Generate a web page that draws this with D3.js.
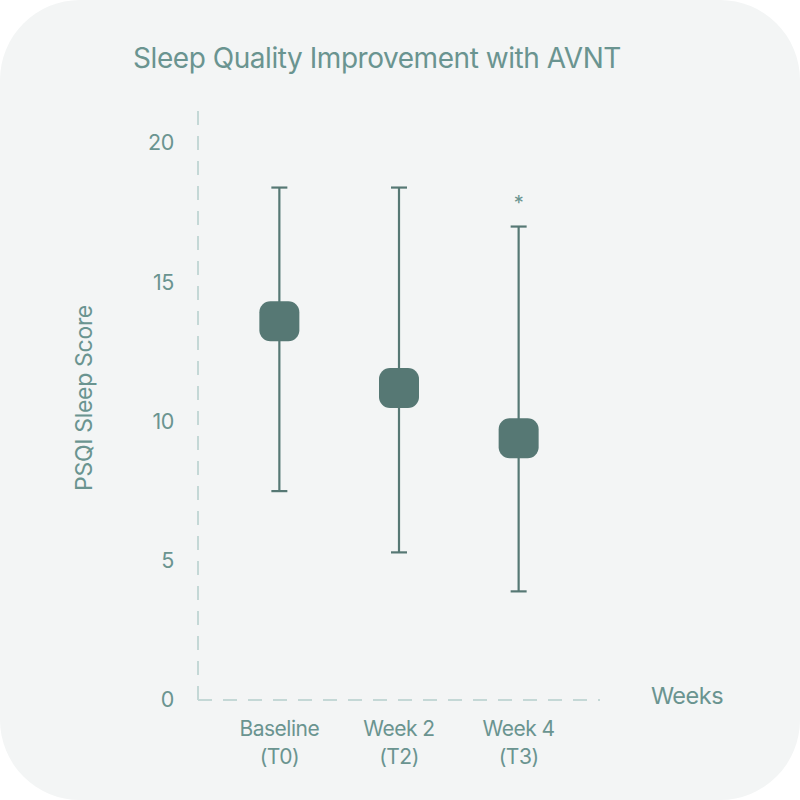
<!DOCTYPE html>
<html>
<head>
<meta charset="utf-8">
<script src="https://cdn.jsdelivr.net/npm/d3@7"></script>
<style>
  html, body { margin: 0; padding: 0; background: #ffffff; }
  svg { display: block; font-family: Inter, "Noto Sans", sans-serif; }
</style>
</head>
<body>
<svg width="800" height="800"></svg>
<script>
// data
const categories = ["Baseline|(T0)", "Week 2|(T2)", "Week 4|(T3)"];
const means = [13.6, 11.2, 9.4];
const upper = [18.4, 18.4, 17.0];
const lower = [7.5, 5.3, 3.9];
const significant = [false, false, true];
const yTicks = [0, 5, 10, 15, 20];

const svg = d3.select("svg"),
    width = +svg.attr("width"),
    height = +svg.attr("height");

const textColor = "#6a9490",
    markColor = "#567874",
    axisColor = "#c4d8d6";

// card background
svg.append("rect")
    .attr("x", 0).attr("y", 0)
    .attr("width", width).attr("height", height)
    .attr("rx", 80).attr("ry", 80)
    .attr("fill", "#f3f5f5");

const left = 198, right = 600, bottom = 700;

const y = d3.scaleLinear().domain([0, 20]).range([bottom, 143]);
const x = d3.scalePoint().domain(categories).range([left, right]).padding(0.68);

// title
svg.append("text")
    .attr("x", 377).attr("y", 68)
    .attr("text-anchor", "middle")
    .attr("fill", textColor)
    .attr("font-size", 28)
    .attr("letter-spacing", -0.45)
    .text("Sleep Quality Improvement with AVNT");

// dashed axes
svg.append("line")
    .attr("x1", left).attr("x2", left)
    .attr("y1", bottom).attr("y2", 100)
    .attr("stroke", axisColor).attr("stroke-width", 2)
    .attr("stroke-dasharray", "14,11");

svg.append("line")
    .attr("x1", left).attr("x2", right)
    .attr("y1", bottom).attr("y2", bottom)
    .attr("stroke", axisColor).attr("stroke-width", 2)
    .attr("stroke-dasharray", "14,11");

// y ticks
const yAxis = d3.axisLeft(y).tickValues(yTicks).tickSize(0).tickPadding(24);
const yg = svg.append("g").attr("transform", `translate(${left},0)`).call(yAxis);
yg.select(".domain").remove();
yg.selectAll("text")
    .attr("fill", textColor)
    .attr("font-size", 21.5)
    .attr("letter-spacing", -0.4)
    .attr("font-family", "Inter, sans-serif");

// x ticks, two lines each
const xg = svg.append("g");
categories.forEach(c => {
    const parts = c.split("|");
    const t = xg.append("text")
        .attr("x", x(c))
        .attr("y", 736)
        .attr("text-anchor", "middle")
        .attr("fill", textColor)
        .attr("font-size", 21)
        .attr("letter-spacing", -0.5);
    t.append("tspan").attr("x", x(c)).text(parts[0]);
    t.append("tspan").attr("x", x(c)).attr("dy", 27.5).text(parts[1]);
});

// axis titles
svg.append("text")
    .attr("transform", "translate(92,398) rotate(-90)")
    .attr("text-anchor", "middle")
    .attr("fill", textColor)
    .attr("font-size", 23)
    .attr("letter-spacing", -0.3)
    .text("PSQI Sleep Score");

svg.append("text")
    .attr("x", 687).attr("y", 704)
    .attr("text-anchor", "middle")
    .attr("fill", textColor)
    .attr("font-size", 23.5)
    .attr("letter-spacing", -0.5)
    .text("Weeks");

// whiskers
const marks = svg.append("g");
categories.forEach((c, i) => {
    const cx = x(c);
    marks.append("line")
        .attr("x1", cx).attr("x2", cx)
        .attr("y1", y(upper[i])).attr("y2", y(lower[i]))
        .attr("stroke", markColor).attr("stroke-width", 2.2);
    [upper[i], lower[i]].forEach(v => {
        marks.append("line")
            .attr("x1", cx - 8).attr("x2", cx + 8)
            .attr("y1", y(v)).attr("y2", y(v))
            .attr("stroke", markColor).attr("stroke-width", 2.2);
    });
    marks.append("rect")
        .attr("x", cx - 20).attr("y", y(means[i]) - 20)
        .attr("width", 40).attr("height", 40)
        .attr("rx", 11).attr("ry", 11)
        .attr("fill", markColor);
    if (significant[i]) {
        marks.append("text")
            .attr("x", cx).attr("y", y(upper[i]) - 17)
            .attr("text-anchor", "middle")
            .attr("fill", textColor)
            .attr("font-size", 20)
            .text("*");
    }
});
</script>
</body>
</html>
